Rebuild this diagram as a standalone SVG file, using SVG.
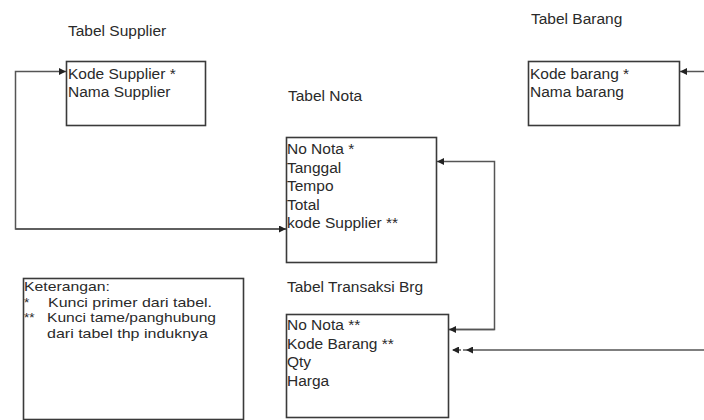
<svg xmlns="http://www.w3.org/2000/svg" width="704" height="420" viewBox="0 0 704 420">
<defs>
<style>
text{font-family:"Liberation Sans",Arial,sans-serif;font-size:15.5px;fill:#2a2a2a}
.small{font-size:13.5px}
.box{fill:#fff;stroke:#3a3a3a;stroke-width:1.6}
.con{fill:none;stroke:#555;stroke-width:1.5}
</style>
<marker id="ah" viewBox="0 0 10 10" refX="10" refY="5" markerWidth="7" markerHeight="7" markerUnits="userSpaceOnUse" orient="auto">
<path d="M0,0 L10,5 L0,10 z" fill="#222"/>
</marker>
</defs>
<rect width="704" height="420" fill="#fff"/>
<g id="supplier">
<text x="68" y="36">Tabel Supplier</text>
<rect class="box" x="66.5" y="61.5" width="139" height="64"/>
<text x="68" y="79">Kode Supplier *</text>
<text x="68" y="97">Nama Supplier</text>
</g>
<g id="barang">
<text x="531" y="24">Tabel Barang</text>
<rect class="box" x="528.5" y="61.5" width="151" height="64"/>
<text x="530" y="79">Kode barang *</text>
<text x="530" y="97">Nama barang</text>
</g>
<g id="nota">
<text x="288" y="101">Tabel Nota</text>
<rect class="box" x="286.5" y="137.5" width="150" height="125"/>
<text x="287" y="154">No Nota *</text>
<text x="287" y="172.5">Tanggal</text>
<text x="287" y="191">Tempo</text>
<text x="287" y="209.5">Total</text>
<text x="287" y="228">kode Supplier **</text>
</g>
<g id="transaksi">
<text x="287" y="292">Tabel Transaksi Brg</text>
<rect class="box" x="286.5" y="314.5" width="162" height="103"/>
<text x="287" y="330">No Nota **</text>
<text x="287" y="348.5">Kode Barang **</text>
<text x="287" y="367">Qty</text>
<text x="287" y="385.5">Harga</text>
</g>
<g id="keterangan">
<rect class="box" x="23.5" y="278.5" width="220" height="141"/>
<text class="small" x="24" y="291" textLength="86" lengthAdjust="spacingAndGlyphs">Keterangan:</text>
<text class="small" x="24" y="306.5">*</text>
<text class="small" x="48" y="306.5" textLength="164" lengthAdjust="spacingAndGlyphs">Kunci primer dari tabel.</text>
<text class="small" x="24" y="322">**</text>
<text class="small" x="47" y="322" textLength="169" lengthAdjust="spacingAndGlyphs">Kunci tame/panghubung</text>
<text class="small" x="47" y="337.5" textLength="161" lengthAdjust="spacingAndGlyphs">dari tabel thp induknya</text>
</g>
<g id="connectors">
<path class="con" d="M286,229 H15.5 V71.5 H66" marker-end="url(#ah)"/>
<path class="con" d="M15.5,229 H286" marker-end="url(#ah)"/>
<path class="con" d="M704,71.5 H680" marker-end="url(#ah)"/>
<path class="con" d="M449,329.5 H494.5 V161.5 H437" marker-end="url(#ah)"/>
<path class="con" d="M494.5,329.5 H449" marker-end="url(#ah)"/>
<path class="con" d="M704,350 H466" marker-end="url(#ah)"/>
<path class="con" d="M466,350 H452" stroke-dasharray="3,2" marker-end="url(#ah)"/>
</g>
</svg>
